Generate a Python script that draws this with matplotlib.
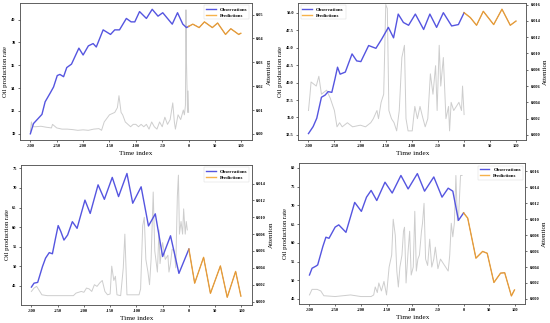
import matplotlib
matplotlib.use("Agg")
import matplotlib.pyplot as plt

# ---------------- data ----------------
# Panel 1 (top-left)
p1_obs_x = [-300, -294, -284, -278, -272, -262, -256, -249, -244, -237, -231, -222, -208, -200, -190, -181, -175, -162, -148, -140, -131, -118, -109, -102, -93, -80, -69, -58, -49, -40, -31, -21, -11, -4, 0]
p1_obs_y = [30.0, 30.9, 31.4, 31.7, 32.8, 33.6, 34.1, 35.1, 35.2, 35.0, 35.8, 36.1, 37.5, 36.9, 37.7, 37.9, 37.6, 39.1, 38.7, 39.1, 39.1, 40.1, 39.8, 39.8, 40.7, 40.1, 40.9, 40.3, 40.6, 40.1, 39.6, 40.6, 39.6, 39.3, 39.4]
p1_pred_x = [0, 8, 20, 30, 45, 55, 70, 80, 95, 99]
p1_pred_y = [39.4, 39.6, 39.3, 39.8, 39.3, 39.7, 38.7, 39.2, 38.7, 38.8]
p1_att_x = [-300, -298, -296, -290, -280, -270, -260, -258, -250, -240, -230, -220, -210, -200, -190, -180, -170, -165, -160, -150, -140, -135, -132, -128, -125, -120, -110, -105, -100, -95, -90, -85, -80, -75, -70, -65, -60, -55, -50, -45, -40, -35, -30, -27, -25, -20, -15, -10, -8, -6, -5, -4, -2, -1, 0]
p1_att_y = [0.001, 0.005, 0.003, 0.003, 0.0032, 0.0028, 0.0025, 0.004, 0.0025, 0.002, 0.002, 0.0018, 0.0015, 0.0017, 0.0015, 0.002, 0.0022, 0.0015, 0.005, 0.008, 0.009, 0.011, 0.016, 0.009, 0.008, 0.005, 0.003, 0.004, 0.004, 0.003, 0.004, 0.003, 0.004, 0.002, 0.005, 0.003, 0.002, 0.005, 0.003, 0.007, 0.004, 0.006, 0.013, 0.005, 0.002, 0.008, 0.006, 0.01, 0.008, 0.012, 0.052, 0.03, 0.009, 0.018, 0.009]

# Panel 2 (top-right)
p2_obs_x = [-300, -291, -284, -275, -268, -262, -255, -249, -244, -239, -229, -216, -207, -199, -184, -170, -159, -146, -136, -127, -117, -107, -94, -78, -66, -53, -40, -24, -11, 0]
p2_obs_y = [32.7, 33.7, 34.9, 37.9, 38.2, 38.7, 38.6, 40.5, 42.2, 41.2, 41.5, 44.1, 43.1, 43.0, 45.3, 44.9, 46.2, 47.9, 46.4, 49.8, 48.6, 48.2, 49.8, 47.6, 49.8, 47.9, 50.0, 48.1, 48.3, 50.0]
p2_pred_x = [0, 12, 24, 37, 57, 73, 89, 100]
p2_pred_y = [50.0, 49.3, 48.2, 50.2, 48.3, 50.5, 48.2, 48.8]
p2_att_x = [-300, -297, -295, -285, -280, -275, -265, -258, -250, -245, -240, -235, -225, -215, -200, -190, -180, -175, -168, -165, -160, -155, -151, -148, -145, -140, -135, -130, -125, -120, -115, -112, -108, -100, -95, -90, -85, -80, -75, -70, -65, -60, -55, -52, -48, -45, -40, -35, -30, -28, -25, -20, -15, -10, -5, -3, 0]
p2_att_y = [0.003, 0.005, 0.0065, 0.006, 0.0072, 0.005, 0.0055, 0.0045, 0.003, 0.001, 0.0015, 0.001, 0.0015, 0.001, 0.0012, 0.001, 0.0015, 0.002, 0.003, 0.002, 0.004, 0.005, 0.016, 0.0155, 0.003, 0.002, 0.0015, 0.0005, 0.003, 0.0095, 0.011, 0.002, 0.0005, 0.0005, 0.0035, 0.002, 0.0035, 0.0022, 0.001, 0.002, 0.0075, 0.005, 0.0085, 0.003, 0.011, 0.006, 0.0095, 0.002, 0.0035, 0.0005, 0.004, 0.003, 0.0035, 0.004, 0.003, 0.006, 0.0025]

# Panel 3 (bottom-left)
p3_obs_x = [-300, -295, -288, -279, -273, -266, -260, -254, -249, -244, -238, -231, -222, -213, -198, -188, -173, -161, -146, -134, -118, -107, -91, -77, -64, -50, -35, -19, 0]
p3_obs_y = [44.7, 45.7, 45.9, 49.9, 52.1, 53.5, 53.2, 57.2, 60.4, 58.9, 56.7, 58.0, 61.4, 59.7, 66.9, 63.5, 70.8, 67.1, 72.7, 67.8, 73.7, 66.1, 70.3, 60.3, 63.4, 52.5, 57.8, 48.2, 54.4]
p3_pred_x = [0, 11, 28, 41, 60, 73, 89, 99]
p3_pred_y = [54.4, 45.7, 52.3, 43.1, 50.1, 42.1, 48.7, 42.4]
p3_att_x = [-300, -295, -290, -285, -280, -270, -250, -230, -220, -215, -205, -200, -195, -190, -185, -180, -175, -170, -165, -160, -155, -150, -147, -143, -140, -137, -130, -125, -122, -118, -110, -100, -95, -92, -88, -85, -82, -78, -75, -72, -68, -65, -60, -57, -55, -50, -45, -40, -38, -35, -32, -28, -25, -22, -20, -18, -15, -12, -10, -7, -5, -3]
p3_att_y = [0.0012, 0.0016, 0.0018, 0.0013, 0.0008, 0.0007, 0.0007, 0.0007, 0.0007, 0.001, 0.0012, 0.0011, 0.0016, 0.0015, 0.0012, 0.002, 0.0018, 0.0022, 0.0025, 0.0012, 0.0008, 0.0009, 0.0042, 0.0025, 0.003, 0.0008, 0.0007, 0.004, 0.008, 0.0008, 0.0008, 0.0008, 0.0008, 0.0015, 0.009, 0.010, 0.005, 0.0035, 0.002, 0.005, 0.013, 0.006, 0.0035, 0.0085, 0.0045, 0.007, 0.005, 0.0055, 0.0035, 0.0045, 0.0062, 0.006, 0.004, 0.0125, 0.015, 0.008, 0.0095, 0.008, 0.011, 0.008, 0.0095, 0.0085]

# Panel 4 (bottom-right)
p4_obs_x = [-300, -295, -287, -284, -274, -268, -262, -250, -243, -229, -217, -212, -199, -189, -180, -169, -153, -139, -122, -108, -90, -76, -58, -42, -30, -21, -10, 0]
p4_obs_y = [51.4, 53.2, 53.8, 54.1, 59.0, 61.5, 61.2, 64.2, 64.8, 62.8, 68.4, 70.8, 68.4, 72.2, 74.0, 71.3, 76.2, 73.3, 78.0, 74.4, 78.5, 73.8, 77.6, 72.2, 74.6, 73.8, 66.0, 68.0]
p4_pred_x = [0, 8, 24, 37, 46, 59, 72, 80, 93, 99]
p4_pred_y = [68.0, 66.6, 55.9, 57.7, 57.2, 49.4, 51.9, 52.0, 45.8, 47.4]
p4_att_x = [-300, -295, -285, -278, -272, -250, -220, -200, -180, -175, -172, -168, -165, -160, -155, -150, -145, -140, -137, -133, -130, -127, -124, -120, -117, -115, -112, -108, -105, -102, -98, -95, -92, -89, -86, -82, -80, -77, -74, -70, -66, -62, -58, -55, -50, -45, -40, -35, -30, -27, -24, -21, -18, -15, -12, -10, -6, -3]
p4_att_y = [0.0005, 0.0012, 0.0012, 0.001, 0.0004, 0.0003, 0.0005, 0.0003, 0.0003, 0.0005, 0.0015, 0.0008, 0.002, 0.001, 0.0022, 0.0005, 0.004, 0.0055, 0.010, 0.008, 0.0035, 0.0015, 0.004, 0.0055, 0.0085, 0.009, 0.002, 0.006, 0.0085, 0.003, 0.004, 0.011, 0.0035, 0.005, 0.0055, 0.0085, 0.0095, 0.012, 0.005, 0.0042, 0.0075, 0.004, 0.005, 0.0065, 0.0038, 0.005, 0.0045, 0.004, 0.0035, 0.0055, 0.0095, 0.0078, 0.0095, 0.0155, 0.0098, 0.010, 0.0155, 0.0155]

x_ticks = [-300, -250, -200, -150, -100, -50, 0, 50, 100]

panels = [
    dict(pos=[0.036, 0.567, 0.422, 0.424], ox=p1_obs_x, oy=p1_obs_y, px=p1_pred_x, py=p1_pred_y,
         ax_=p1_att_x, ay=p1_att_y, ylim=(29.47, 41.46), yt=[30, 32, 34, 36, 38, 40], yfmt="{:.0f}",
         rlim=(-0.0025, 0.0549), rt=[0.0, 0.01, 0.02, 0.03, 0.04, 0.05], rfmt="{:.2f}", loc="upper right"),
    dict(pos=[0.542, 0.567, 0.415, 0.424], ox=p2_obs_x, oy=p2_obs_y, px=p2_pred_x, py=p2_pred_y,
         ax_=p2_att_x, ay=p2_att_y, ylim=(31.8, 51.4), yt=[32.5, 35.0, 37.5, 40.0, 42.5, 45.0, 47.5, 50.0], yfmt="{:.1f}",
         rlim=(-0.0006, 0.0162), rt=[0.0, 0.002, 0.004, 0.006, 0.008, 0.010, 0.012, 0.014, 0.016], rfmt="{:.3f}", loc="upper left"),
    dict(pos=[0.038, 0.056, 0.420, 0.433], ox=p3_obs_x, oy=p3_obs_y, px=p3_pred_x, py=p3_pred_y,
         ax_=p3_att_x, ay=p3_att_y, ylim=(40.15, 75.85), yt=[45, 50, 55, 60, 65, 70, 75], yfmt="{:.0f}",
         rlim=(-0.0004, 0.0162), rt=[0.0, 0.002, 0.004, 0.006, 0.008, 0.010, 0.012, 0.014], rfmt="{:.3f}", loc="upper right"),
    dict(pos=[0.544, 0.059, 0.411, 0.436], ox=p4_obs_x, oy=p4_obs_y, px=p4_pred_x, py=p4_pred_y,
         ax_=p4_att_x, ay=p4_att_y, ylim=(43.66, 81.3), yt=[45, 50, 55, 60, 65, 70, 75, 80], yfmt="{:.0f}",
         rlim=(-0.00063, 0.01705), rt=[0.0, 0.002, 0.004, 0.006, 0.008, 0.010, 0.012, 0.014, 0.016], rfmt="{:.3f}", loc="upper right"),
]

serif = ["Liberation Serif", "DejaVu Serif"]
fig = plt.figure(figsize=(5.5, 3.23), dpi=100)
blue = "#5555e0"
orange = "#f5a52a"

for p in panels:
    ax = fig.add_axes(p["pos"])
    ax2 = ax.twinx()
    ax.set_zorder(ax2.get_zorder() + 1)
    ax.patch.set_visible(False)
    ax2.plot(p["ax_"], p["ay"], color="#c8c8c8", lw=0.7, alpha=0.9)
    ax.plot(p["ox"], p["oy"], color=blue, lw=1.0, label="Observations")
    ax.plot(p["px"], p["py"], color="#6a3a6a", lw=0.5)
    ax.plot(p["px"], p["py"], color=orange, lw=1.0, alpha=0.85, label="Predictions")
    ax.set_xlim(-320, 120)
    ax.set_ylim(*p["ylim"])
    ax2.set_ylim(*p["rlim"])
    ax.set_xticks(x_ticks)
    ax.set_xticklabels([str(t) for t in x_ticks], fontsize=3.2, fontweight="bold", family=serif)
    ax.set_yticks(p["yt"])
    ax.set_yticklabels([p["yfmt"].format(v) for v in p["yt"]], fontsize=3.2, fontweight="bold", family=serif)
    ax2.set_yticks(p["rt"])
    ax2.set_yticklabels([p["rfmt"].format(v) for v in p["rt"]], fontsize=3.2, fontweight="bold", family=serif)
    ax.tick_params(length=1.5, width=0.4, pad=1.5)
    ax2.tick_params(length=1.5, width=0.4, pad=1.5)
    ax.set_xlabel("Time index", fontsize=5.2, family=serif, labelpad=2)
    ax.set_ylabel("Oil production rate", fontsize=4.8, family=serif, labelpad=2)
    ax2.set_ylabel("Attention", fontsize=5.0, family=serif, labelpad=2)
    for s in list(ax.spines.values()) + list(ax2.spines.values()):
        s.set_linewidth(0.5)
        s.set_color("#555555")
    leg = ax.legend(loc=p["loc"], prop={"family": serif, "size": 3.5, "weight": "bold"},
                    frameon=True, fancybox=False, borderpad=0.4, handlelength=2.0,
                    labelspacing=0.3)
    leg.get_frame().set_linewidth(0.3)

fig.savefig("out.png", dpi=100)
